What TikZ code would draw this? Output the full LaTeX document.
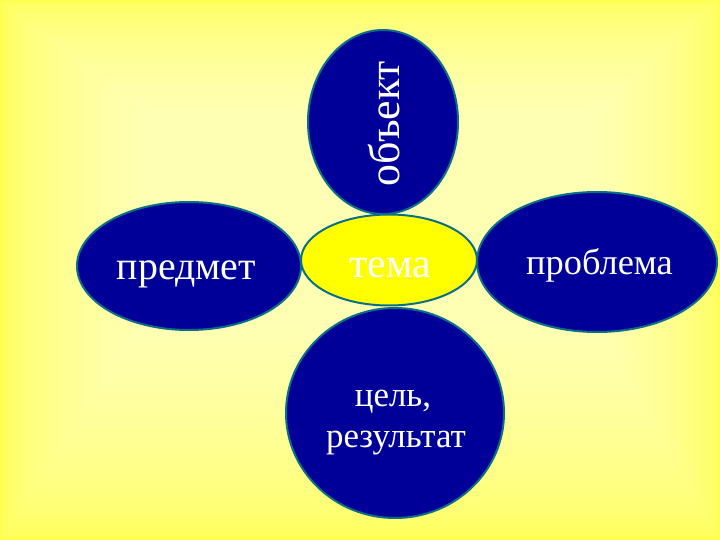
\documentclass[tikz,border=0pt]{standalone}
\usepackage{fontspec}
\setmainfont{Liberation Serif}
\usetikzlibrary{shapes.geometric}
\definecolor{petal}{RGB}{0,0,153}
\definecolor{rim}{RGB}{10,110,135}
\definecolor{core}{RGB}{255,255,0}
\tikzset{
  petalshape/.style={ellipse, draw=rim, line width=2pt, fill=petal, inner sep=0pt},
  coreshape/.style={ellipse, draw=rim, line width=2pt, fill=core, inner sep=0pt},
  word/.style={text=white, inner sep=0pt, anchor=base}
}
\begin{document}
\begin{tikzpicture}[x=1bp,y=-1bp]
\useasboundingbox (0,0) rectangle (720,540);
% background rectangular gradient
\foreach \i in {0,...,50} {
  \pgfmathsetmacro\f{\i/50}
  \pgfmathtruncatemacro\b{80+100*sqrt(\f)}
  \pgfmathsetmacro\xa{\f*140}
  \pgfmathsetmacro\ya{\f*110}
  \pgfmathsetmacro\xb{720-\f*120}
  \pgfmathsetmacro\yb{540-\f*210}
  \fill[color={rgb,255:red,255;green,255;blue,\b}] (\xa,\ya) rectangle (\xb,\yb);
}
\node[petalshape, minimum width=150bp, minimum height=184bp] (obj) at (383,122) {};
\node[petalshape, minimum width=224bp, minimum height=128bp] (pred) at (189,266) {};
\node[petalshape, minimum width=240bp, minimum height=140bp] (prob) at (597,262) {};
\node[petalshape, minimum width=218bp, minimum height=210bp] (goal) at (395,413) {};
\node[coreshape, minimum width=176bp, minimum height=91bp] (tema) at (389,260) {};
\node[word, rotate=90, font=\fontsize{44}{44}\selectfont] (objt) at (399,123.5) {объект};
\node[word, font=\fontsize{40}{40}\selectfont] (predt) at (186.5,280) {предмет};
\node[word, font=\fontsize{36.5}{36.5}\selectfont] (probt) at (599.5,275) {проблема};
\node[word, font=\fontsize{42}{42}\selectfont] (temat) at (390,278) {тема};
\node[word, font=\fontsize{35}{35}\selectfont] (goalt1) at (393,406) {цель,};
\node[word, font=\fontsize{35}{35}\selectfont] (goalt2) at (396,447) {результат};
\end{tikzpicture}
\end{document}
